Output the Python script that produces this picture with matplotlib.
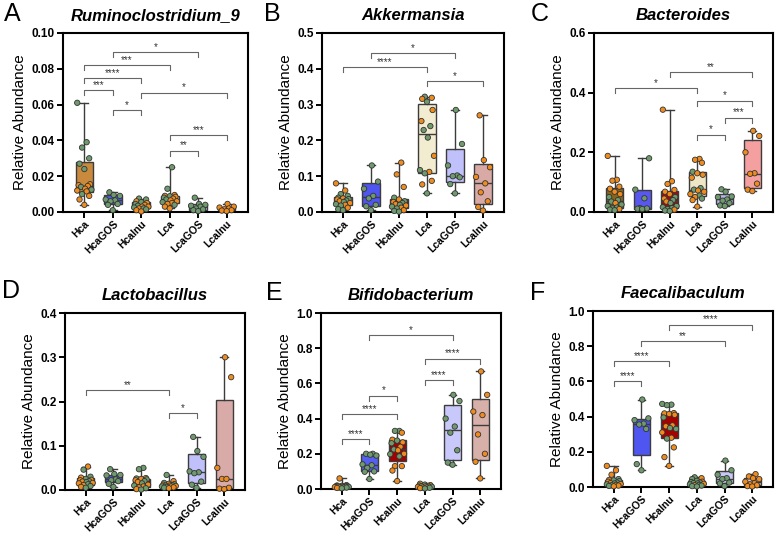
import numpy as np
import matplotlib
matplotlib.use('Agg')
import matplotlib.pyplot as plt

plt.rcParams['font.family'] = ['Liberation Sans', 'DejaVu Sans']

groups = ['Hca', 'HcaGOS', 'HcaInu', 'Lca', 'LcaGOS', 'LcaInu']

# dot colours: o = orange, g = green
ORANGE = '#f08c1e'
GREEN = '#6e9a6e'

# ---- A: Ruminoclostridium_9
a_vals = [
    [0.061, 0.039, 0.036, 0.030, 0.027, 0.024, 0.0155, 0.015, 0.0145, 0.014, 0.013, 0.0125, 0.012, 0.0115, 0.010, 0.009, 0.007, 0.004],
    [0.011, 0.0095, 0.009, 0.007, 0.0065, 0.006, 0.0045, 0.004, 0.001],
    [0.0075, 0.007, 0.006, 0.0055, 0.005, 0.0045, 0.004, 0.0035, 0.003, 0.003, 0.0025, 0.002, 0.002, 0.0015, 0.001, 0.0003],
    [0.025, 0.013, 0.0095, 0.009, 0.0088, 0.0085, 0.008, 0.0075, 0.007, 0.0065, 0.006, 0.0055, 0.005, 0.0045, 0.004, 0.003, 0.002],
    [0.008, 0.0045, 0.004, 0.0035, 0.003, 0.002, 0.0015, 0.001, 0.0005],
    [0.0045, 0.003, 0.0025, 0.002, 0.0015, 0.001, 0.0008, 0.0005],
]
a_cols = ['ggggggooogogoogooo', 'ggggggggg', 'ggogogogoogoggoog', 'ggoogogogoogoogoo', 'ggggggggg', 'oooooooo']
a_fill = ['#c98a3e', '#4f5af0', '#b01515', '#efe7c8', '#c8c8f5', '#f2c0b8']
a_sig = [(1, 4, 0.0893, '*'), (0, 3, 0.0819, '***'), (0, 2, 0.0748, '****'), (2, 5, 0.0667, '*'),
         (0, 1, 0.0679, '***'), (1, 2, 0.057, '*'), (3, 5, 0.0428, '***'), (3, 4, 0.0342, '**')]

# ---- B: Akkermansia
b_vals = [
    [0.08, 0.06, 0.05, 0.045, 0.04, 0.038, 0.036, 0.035, 0.032, 0.03, 0.028, 0.025, 0.022, 0.02, 0.018, 0.012, 0.008, 0.005],
    [0.13, 0.085, 0.065, 0.045, 0.038, 0.02, 0.016, 0.005],
    [0.138, 0.105, 0.07, 0.04, 0.035, 0.03, 0.028, 0.025, 0.022, 0.02, 0.018, 0.015, 0.012, 0.01, 0.005, 0.003, 0.001],
    [0.322, 0.319, 0.316, 0.308, 0.285, 0.254, 0.24, 0.229, 0.208, 0.157, 0.117, 0.112, 0.108, 0.087, 0.077, 0.052],
    [0.285, 0.19, 0.13, 0.102, 0.1, 0.097, 0.078, 0.052],
    [0.27, 0.145, 0.125, 0.098, 0.08, 0.055, 0.03, 0.014, 0.004],
]
b_cols = ['oogggogogogogogogg', 'gggggggg', 'ooogogogogogogogg', 'googoogggogogoog', 'gggggggg', 'ooooooooo']
b_fill = ['#d9a060', '#4f55f0', '#c00000', '#f2ecd0', '#c0c0fa', '#d9aaa5']
b_sig = [(1, 4, 0.444, '*'), (0, 3, 0.404, '****'), (3, 5, 0.366, '*')]

# ---- C: Bacteroides
c_vals = [
    [0.188, 0.108, 0.105, 0.085, 0.078, 0.068, 0.06, 0.05, 0.04, 0.035, 0.03, 0.025, 0.02, 0.015, 0.012, 0.01, 0.008, 0.006],
    [0.18, 0.075, 0.046, 0.013, 0.012, 0.011, 0.01],
    [0.343, 0.103, 0.094, 0.074, 0.068, 0.06, 0.05, 0.045, 0.04, 0.035, 0.03, 0.02, 0.016, 0.013, 0.01, 0.008, 0.005, 0.003],
    [0.178, 0.175, 0.165, 0.135, 0.13, 0.125, 0.115, 0.08, 0.075, 0.072, 0.068, 0.06, 0.055, 0.05, 0.045, 0.04, 0.018],
    [0.076, 0.068, 0.052, 0.05, 0.042, 0.038, 0.03, 0.022, 0.02],
    [0.272, 0.255, 0.2, 0.13, 0.128, 0.095, 0.075, 0.07],
]
c_cols = ['ooooooogggoggggogggg', 'ggggggg', 'oooooogogogggggogggg', 'ooogoooggooogogoog', 'ggggggggg', 'oooooooo']
c_fill = ['#8c6418', '#5858f0', '#a50a0a', '#efe6c8', '#b8b8f0', '#f5a0a0']
c_sig = [(2, 5, 0.468, '**'), (0, 3, 0.415, '*'), (3, 5, 0.373, '*'), (4, 5, 0.316, '***'), (3, 4, 0.259, '*')]

# ---- D: Lactobacillus
d_vals = [
    [0.053, 0.046, 0.03, 0.028, 0.025, 0.023, 0.022, 0.02, 0.019, 0.018, 0.016, 0.015, 0.013, 0.011, 0.009, 0.007, 0.005],
    [0.047, 0.036, 0.034, 0.033, 0.024, 0.022, 0.02, 0.014, 0.007],
    [0.05, 0.047, 0.027, 0.026, 0.025, 0.024, 0.022, 0.02, 0.018, 0.015, 0.012, 0.01, 0.008, 0.006, 0.004, 0.002, 0.001],
    [0.034, 0.02, 0.016, 0.014, 0.013, 0.012, 0.011, 0.01, 0.01, 0.009, 0.008, 0.008, 0.007, 0.006, 0.005, 0.004],
    [0.12, 0.088, 0.075, 0.042, 0.04, 0.038, 0.019, 0.012, 0.005],
    [0.3, 0.255, 0.05, 0.025, 0.025, 0.005, 0.003, 0.002],
]
d_cols = ['oggogoogogoogogog', 'ggggggggg', 'ggogogogogogoogog', 'gogogogogogogogo', 'ggggggggg', 'oooooooo']
d_fill = ['#d9a060', '#5050f0', '#a00000', '#efe7c8', '#c0c0fa', '#d8aaa8']
d_sig = [(0, 3, 0.226, '**'), (3, 4, 0.174, '*')]

# ---- E: Bifidobacterium
e_vals = [
    [0.06, 0.022, 0.02, 0.018, 0.017, 0.016, 0.015, 0.014, 0.013, 0.012, 0.011, 0.01, 0.009, 0.008, 0.006, 0.004],
    [0.2, 0.2, 0.195, 0.19, 0.14, 0.135, 0.12, 0.1, 0.098, 0.057],
    [0.33, 0.33, 0.32, 0.28, 0.275, 0.265, 0.26, 0.24, 0.225, 0.22, 0.2, 0.198, 0.185, 0.13, 0.13, 0.105, 0.045],
    [0.03, 0.025, 0.022, 0.02, 0.018, 0.016, 0.015, 0.013, 0.012, 0.01, 0.008, 0.007, 0.005, 0.003],
    [0.535, 0.5, 0.4, 0.355, 0.32, 0.22, 0.15, 0.138],
    [0.668, 0.535, 0.44, 0.42, 0.31, 0.2, 0.155, 0.06],
]
e_cols = ['ogogogogogogogog', 'gggggggggg', 'ggoogogogooggoooo', 'ogogogogogogog', 'gggggggg', 'oooooooo']
e_fill = ['#d9a060', '#5560f0', '#a80000', '#efe7c8', '#c8c8fa', '#d8b0aa']
e_sig = [(1, 4, 0.875, '*'), (3, 5, 0.74, '****'), (3, 4, 0.619, '****'), (1, 2, 0.529, '*'),
         (0, 2, 0.426, '****'), (0, 1, 0.282, '****')]

# ---- F: Faecalibaculum
f_vals = [
    [0.12, 0.095, 0.07, 0.045, 0.04, 0.038, 0.033, 0.03, 0.025, 0.022, 0.02, 0.017, 0.015, 0.012, 0.01, 0.008, 0.006, 0.004],
    [0.497, 0.39, 0.38, 0.36, 0.355, 0.33, 0.13, 0.095],
    [0.472, 0.468, 0.465, 0.42, 0.418, 0.415, 0.41, 0.395, 0.35, 0.345, 0.335, 0.33, 0.31, 0.28, 0.275, 0.225, 0.17, 0.12],
    [0.055, 0.05, 0.045, 0.035, 0.03, 0.028, 0.025, 0.022, 0.02, 0.018, 0.015, 0.012, 0.01, 0.008, 0.005, 0.003],
    [0.15, 0.095, 0.07, 0.05, 0.045, 0.025, 0.02, 0.005],
    [0.073, 0.06, 0.05, 0.045, 0.03, 0.022, 0.015, 0.01, 0.005, 0.003],
]
f_cols = ['ooogoggogogogogogo', 'gggggggg', 'gggoooogooggoogooo', 'goggoggggoggoggg', 'gggggggg', 'oooooooooo']
f_fill = ['#d49a55', '#4f55f0', '#a80000', '#efe7c8', '#c8c8f5', '#f0c0b8']
f_sig = [(2, 5, 0.921, '****'), (1, 4, 0.828, '**'), (0, 2, 0.716, '****'), (0, 1, 0.6, '****')]

# spread pattern for dots (by rank within a group)
spread = [0.0, -0.17, 0.17, -0.08, 0.08, -0.25, 0.25, 0.03, -0.12, 0.12, -0.2, 0.2]


def draw_panel(ax, vals, cols, fills, ymax, step, fmt, sigs, title):
    stats = []
    for v in vals:
        v = np.array(v)
        q1, med, q3 = np.percentile(v, [25, 50, 75], method='weibull')
        stats.append({'med': med, 'q1': q1, 'q3': q3, 'whislo': v.min(), 'whishi': v.max(), 'fliers': []})
    bp = ax.bxp(stats, positions=range(6), widths=0.62, patch_artist=True, showfliers=False,
                capwidths=0.28, manage_ticks=False,
                boxprops=dict(edgecolor='#3c3c3c', linewidth=1.0),
                whiskerprops=dict(color='#3c3c3c', linewidth=1.0),
                capprops=dict(color='#3c3c3c', linewidth=1.0),
                medianprops=dict(color='#3c3c3c', linewidth=1.0))
    for patch, fc in zip(bp['boxes'], fills):
        patch.set_facecolor(fc)

    for i, (v, c) in enumerate(zip(vals, cols)):
        v = np.array(v)
        order = np.argsort(v)
        xs = np.zeros(len(v))
        for rank, idx in enumerate(order):
            xs[idx] = i + spread[rank % len(spread)]
        colors = [ORANGE if ch == 'o' else GREEN for ch in c[:len(v)]]
        ax.scatter(xs, v, s=15, c=colors, edgecolors='#333333', linewidths=0.6, zorder=3, clip_on=False)

    d = ymax * 0.028
    for x1, x2, y, lab in sigs:
        ax.plot([x1, x1, x2, x2], [y - d, y, y, y - d], color='#666666', lw=0.8, zorder=2)
        ax.text((x1 + x2) / 2, y + ymax * 0.002, lab, ha='center', va='bottom', fontsize=7, color='#333333')

    ax.set_xlim(-0.75, 5.75)
    ax.set_ylim(0, ymax)
    ticks = np.arange(0, ymax + step / 2, step)
    ax.set_yticks(ticks)
    ax.set_yticklabels([fmt % t for t in ticks], fontsize=8.5, fontweight='bold')
    ax.set_xticks(range(6))
    ax.set_xticklabels(groups, rotation=45, ha='right', rotation_mode='anchor', fontsize=7.5, fontweight='bold')
    ax.tick_params(width=1.4, length=4, pad=2)
    ax.tick_params(axis='x', pad=1)
    for s in ax.spines.values():
        s.set_linewidth(1.5)
    ax.set_ylabel('Relative Abundance', fontsize=11, labelpad=3)
    ax.set_title(title, fontsize=12, fontweight='bold', fontstyle='italic', pad=9)


W, H = 778, 538
fig = plt.figure(figsize=(W / 100, H / 100), dpi=100)


def add_ax(l, r, t, b):
    return fig.add_axes([l / W, 1 - b / H, (r - l) / W, (b - t) / H])


axA = add_ax(63, 248, 33, 212)
axB = add_ax(322, 504, 33, 212)
axC = add_ax(594, 773, 33, 212)
axD = add_ax(65, 245, 313, 490)
axE = add_ax(321, 501, 313, 489)
axF = add_ax(593, 773, 311, 487)

draw_panel(axA, a_vals, a_cols, a_fill, 0.10, 0.02, '%.2f', a_sig, 'Ruminoclostridium_9')
draw_panel(axB, b_vals, b_cols, b_fill, 0.5, 0.1, '%.1f', b_sig, 'Akkermansia')
draw_panel(axC, c_vals, c_cols, c_fill, 0.6, 0.2, '%.1f', c_sig, 'Bacteroides')
draw_panel(axD, d_vals, d_cols, d_fill, 0.4, 0.1, '%.1f', d_sig, 'Lactobacillus')
draw_panel(axE, e_vals, e_cols, e_fill, 1.0, 0.2, '%.1f', e_sig, 'Bifidobacterium')
draw_panel(axF, f_vals, f_cols, f_fill, 1.0, 0.2, '%.1f', f_sig, 'Faecalibaculum')

for lab, x, y in [('A', 4, 2), ('B', 264, 2), ('C', 531, 2), ('D', 2, 279), ('E', 266, 281), ('F', 530, 281)]:
    fig.text(x / W, 1 - y / H, lab, fontsize=18, va='top', ha='left')

fig.savefig('out.png', dpi=100)
